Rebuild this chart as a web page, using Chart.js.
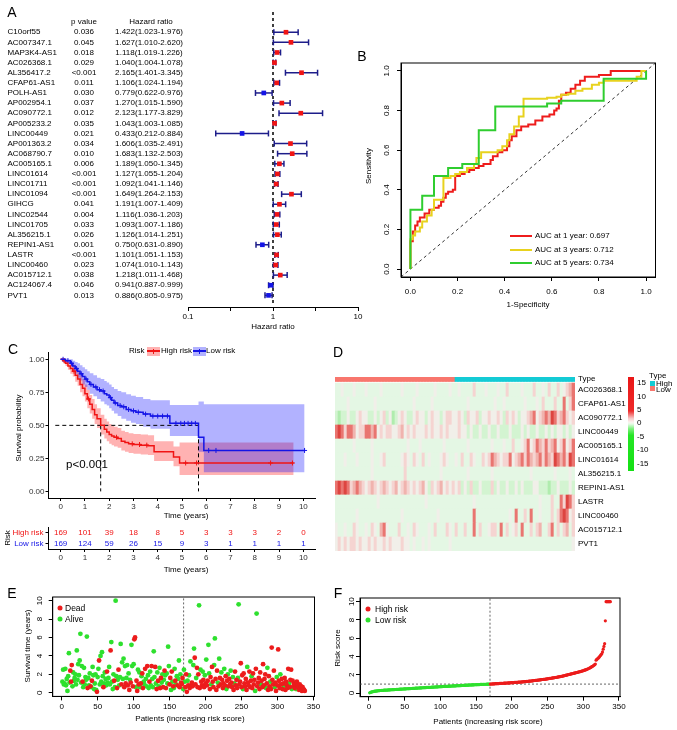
<!DOCTYPE html>
<html>
<head>
<meta charset="utf-8">
<script src="https://cdn.jsdelivr.net/npm/chart.js@4.4.1/dist/chart.umd.min.js"></script>
<style>
  body { margin: 0; background: #fff; font-family: "Liberation Sans", Arial, sans-serif; color: #000; }
  #page { position: relative; width: 677px; height: 730px; overflow: hidden; }
  canvas { position: absolute; }
  .t { position: absolute; white-space: nowrap; font-size: 8px; line-height: 1; transform: translate(-50%, -50%); }
  .l { position: absolute; white-space: nowrap; font-size: 8px; line-height: 1; transform: translateY(-50%); }
  .rot { transform: translate(-50%, -50%) rotate(-90deg); }
  .big { font-size: 14px; }
  .sw { position: absolute; }
  .dot { position: absolute; width: 5px; height: 5px; border-radius: 50%; transform: translate(-50%, -50%); }
</style>
</head>
<body>
<div id="page">
  <canvas id="forest" width="370" height="335" style="left:0;top:0"></canvas>
  <canvas id="roc" width="337" height="280" style="left:340px;top:40px"></canvas>
  <canvas id="km" width="340" height="180" style="left:0;top:340px"></canvas>
  <canvas id="riskTable" width="340" height="42" style="left:0;top:522px"></canvas>
  <canvas id="heat" width="347" height="190" style="left:330px;top:370px"></canvas>
  <canvas id="survScatter" width="340" height="145" style="left:0;top:585px"></canvas>
  <canvas id="riskScatter" width="337" height="145" style="left:340px;top:585px"></canvas>
</div>
<script>
// ---------- A: univariate Cox forest ----------
const genes = ['C10orf55','AC007347.1','MAP3K4-AS1','AC026368.1','AL356417.2','CFAP61-AS1','POLH-AS1','AP002954.1','AC090772.1','AP005233.2','LINC00449','AP001363.2','AC068790.7','AC005165.1','LINC01614','LINC01711','LINC01094','GIHCG','LINC02544','LINC01705','AL356215.1','REPIN1-AS1','LASTR','LINC00460','AC015712.1','AC124067.4','PVT1'];
const pValues = ['0.036','0.045','0.018','0.029','<0.001','0.011','0.030','0.037','0.012','0.035','0.021','0.034','0.010','0.006','<0.001','<0.001','<0.001','0.041','0.004','0.033','0.026','0.001','<0.001','0.023','0.038','0.046','0.013'];
const hr = [1.422,1.627,1.118,1.040,2.165,1.106,0.779,1.270,2.123,1.043,0.433,1.606,1.683,1.189,1.127,1.092,1.649,1.191,1.116,1.093,1.126,0.750,1.101,1.074,1.218,0.941,0.886];
const hrLow = [1.023,1.010,1.019,1.004,1.401,1.024,0.622,1.015,1.177,1.003,0.212,1.035,1.132,1.050,1.055,1.041,1.264,1.007,1.036,1.007,1.014,0.631,1.051,1.010,1.011,0.887,0.805];
const hrHigh = [1.976,2.620,1.226,1.078,3.345,1.194,0.976,1.590,3.829,1.085,0.884,2.491,2.503,1.345,1.204,1.146,2.153,1.409,1.203,1.186,1.251,0.890,1.153,1.143,1.468,0.999,0.975];
const hrTicks = [0.1, 0.316, 1, 3.162, 10];

// ---------- B: time-dependent ROC ----------
const rocYears = [1, 3, 5];
const rocAuc = ['0.697', '0.712', '0.734'];
const roc1Fpr = [0,0,0.01,0.02,0.03,0.04,0.06,0.08,0.10,0.12,0.13,0.14,0.15,0.16,0.18,0.19,0.21,0.23,0.25,0.27,0.29,0.31,0.32,0.34,0.35,0.37,0.39,0.41,0.42,0.43,0.45,0.47,0.50,0.53,0.56,0.59,0.61,0.62,0.63,0.64,0.66,0.68,0.70,0.72,0.74,0.78,0.80,0.83,0.85,0.90,0.98,1.0];
const roc1Tpr = [0,0.14,0.19,0.22,0.24,0.26,0.28,0.30,0.31,0.32,0.34,0.36,0.38,0.39,0.40,0.47,0.48,0.49,0.50,0.51,0.52,0.53,0.53,0.55,0.57,0.59,0.60,0.62,0.65,0.67,0.70,0.72,0.73,0.75,0.77,0.78,0.80,0.81,0.85,0.88,0.89,0.91,0.93,0.95,0.97,0.97,0.98,0.98,1.0,1.0,1.0,1.0];
const roc3Fpr = [0,0,0.01,0.02,0.04,0.05,0.07,0.09,0.10,0.14,0.17,0.19,0.21,0.24,0.27,0.28,0.30,0.37,0.39,0.41,0.42,0.44,0.46,0.48,0.58,0.62,0.64,0.67,0.70,0.73,0.77,0.80,0.82,0.96,0.98,1.0];
const roc3Tpr = [0,0.15,0.17,0.19,0.21,0.24,0.27,0.30,0.35,0.46,0.47,0.48,0.49,0.51,0.53,0.56,0.59,0.60,0.62,0.65,0.68,0.72,0.77,0.86,0.865,0.87,0.88,0.885,0.90,0.91,0.93,0.94,0.95,0.97,1.0,1.0];
const roc5Fpr = [0,0,0.05,0.10,0.16,0.22,0.29,0.36,0.58,0.64,0.82,1.0];
const roc5Tpr = [0,0.30,0.37,0.47,0.51,0.53,0.70,0.82,0.835,0.85,0.96,1.0];
const rocColors = ['#ee1c1c', '#e8d21e', '#2fcd2f'];

// ---------- C: Kaplan-Meier ----------
const hiTime = [0,0.1,0.2,0.3,0.4,0.5,0.6,0.7,0.8,0.9,1.0,1.1,1.2,1.3,1.4,1.5,1.65,1.8,1.9,2.0,2.1,2.2,2.35,2.5,2.65,2.8,3.0,3.3,3.6,3.85,4.65,4.9,9.6];
const hiSurv = [1.0,0.99,0.97,0.95,0.93,0.91,0.88,0.85,0.81,0.78,0.74,0.70,0.66,0.62,0.58,0.55,0.50,0.47,0.45,0.43,0.42,0.41,0.40,0.38,0.37,0.36,0.355,0.35,0.345,0.30,0.26,0.215,0.215];
const hiUpper = [1.0,1.0,0.99,0.98,0.97,0.96,0.94,0.91,0.88,0.85,0.81,0.77,0.73,0.70,0.66,0.63,0.58,0.55,0.53,0.51,0.50,0.49,0.48,0.46,0.45,0.44,0.435,0.43,0.425,0.38,0.34,0.37,0.37];
const hiLower = [1.0,0.97,0.95,0.92,0.89,0.87,0.83,0.80,0.75,0.72,0.68,0.63,0.59,0.55,0.51,0.48,0.43,0.40,0.38,0.36,0.35,0.34,0.33,0.31,0.30,0.29,0.285,0.28,0.275,0.23,0.19,0.125,0.125];
const loTime = [0,0.2,0.4,0.5,0.6,0.7,0.8,0.9,1.0,1.1,1.2,1.35,1.5,1.65,1.8,1.9,2.0,2.1,2.2,2.35,2.5,2.7,2.9,3.1,3.4,3.7,4.5,5.68,5.9,10.05];
const loSurv = [1.0,0.99,0.97,0.95,0.93,0.91,0.89,0.87,0.85,0.83,0.81,0.79,0.77,0.76,0.74,0.73,0.71,0.69,0.67,0.65,0.64,0.62,0.61,0.60,0.585,0.57,0.515,0.41,0.31,0.31];
const loUpper = [1.0,1.0,1.0,0.99,0.98,0.97,0.955,0.94,0.925,0.91,0.895,0.88,0.86,0.85,0.835,0.825,0.81,0.79,0.775,0.76,0.75,0.735,0.725,0.715,0.70,0.69,0.655,0.68,0.66,0.66];
const loLower = [1.0,0.97,0.94,0.91,0.89,0.86,0.84,0.81,0.79,0.77,0.74,0.72,0.70,0.68,0.66,0.65,0.63,0.61,0.59,0.57,0.55,0.535,0.52,0.51,0.49,0.475,0.42,0.30,0.145,0.145];
const hiCensor = [0.15,0.55,1.15,2.3,2.95,3.25,3.55,5.15,5.6,8.65,9.55];
const loCensor = [0.1,0.3,0.45,0.65,0.85,1.05,1.25,1.45,1.6,1.75,2.05,2.25,2.45,2.6,2.8,3.0,3.2,3.5,3.8,4.0,4.2,4.4,4.75,4.95,5.1,5.25,5.4,5.55,6.1,6.4,10.05];
const medianTimes = [1.65, 5.68];
const kmTicksX = [0,1,2,3,4,5,6,7,8,9,10];
const kmTicksY = [0, 0.25, 0.5, 0.75, 1];
const riskTimes = [0,1,2,3,4,5,6,7,8,9,10];
const atRiskHigh = [169,101,39,18,8,5,3,3,3,2,0];
const atRiskLow = [169,124,59,26,15,9,3,1,1,1,1];

// ---------- D: heatmap (level codes per column, low-risk left / high-risk right) ----------
const heatGenes = ['AC026368.1','CFAP61-AS1','AC090772.1','LINC00449','AC005165.1','LINC01614','AL356215.1','REPIN1-AS1','LASTR','LINC00460','AC015712.1','PVT1'];
const heatLevels = [
  ['..-...-...','-....-....','..-....-..','...-....-.','.-....p...','-...-..p..','..-...p..-','.p..p.-pPr'],
  ['....-.....','...-......','......-...','..-.......','....-.....','...-..-...','...-...-.p','...p..r.pr'],
  ['gGgg-gg-p-','-gg-g-pg-G','g-p-gg-p--','g-p--g-pp-','-p-gp--pg-','-p--p-gp-p','-g--pPr-pP','rPRrpPrp-p'],
  ['rRrprrP-pp','rrPr-p-pp-','-pP-p-p---','p-p--p-p--','-p--g-gg-g','g-gg-ggg-g','gg-g-gg-gg','-g-g--g-g-'],
  ['......-...','..-.......','....-...-.','......-...','....-.....','..-...-..p','..-pr-prPp','rpPr-pr-pr'],
  ['...-...-..','..-..-p...','..-p-.p-.p','.-...-p-..','-.p..p-..p','-prPp-ppr-','pPrprPpPrp','rPpRrPrpRr'],
  ['..........','..-.......','...p......','.....-....','....-.....','..-.......','.....-....','...-....-.'],
  ['rRrRrpPrPp','-pPp-pPp-p','P-pPp-p-pP','-gp-pP-p-p','-pg-gpgg-g','ggpg-gg-gg','-g-ggg--gg','gGgg-ggg-g'],
  ['..........','....-.....','..........','-.........','......-...','..........','........-.','..p..rpRrp'],
  ['.......-..','..........','..-.......','....-.....','......r...','........-.','r..p.r..-.','..p.prRr-p'],
  ['-..-..p-..','-.p-.Pr-..','.p..-.p-..','.-.p...p-.','p..p..r.p.','.-pp.r.p.-','p.r..p.pP.','.pr.p.pP.p'],
  ['-p-p-pp-p-','-p-p--p-p-','--p--.-..-','.-......-.','..........','..........','..........','.........-']
].map(r => r.join(''));
const heatLowCols = 40, heatHighCols = 40;
const heatPalette = { '.': '#e4f7e4', '-': '#f1efe9', 'p': '#f5d4d1', 'P': '#f0b3ae', 'r': '#e97570', 'R': '#dd4540', 'g': '#d3f4d1', 'G': '#b0ecae' };
const colorbarTicks = [15, 10, 5, 0, -5, -10, -15];

// ---------- E: survival status by patient (ordered by risk score) ----------
const survTimes = [
  1.2,2.5,0.9,1.0,2.6,0.8,1.5,0.2,1.8,4.3,1.1,2.4,1.2,3.0,0.7,2.2,1.3,1.6,2.0,0.9,
  4.6,1.4,3.1,1.9,3.5,6.4,1.1,2.9,1.2,0.6,2.7,0.9,1.7,1.4,6.1,0.5,1.6,0.8,2.1,0.7,
  0.6,1.3,2.8,1.9,0.4,1.0,2.0,0.3,0.1,1.7,2.6,3.5,0.9,4.0,1.2,4.4,1.8,0.6,1.0,2.2,
  1.5,0.8,2.3,1.1,1.6,2.8,0.9,4.6,5.5,1.2,0.4,2.0,1.3,0.6,10.0,1.8,0.5,1.4,2.5,0.8,
  1.7,5.3,0.9,3.3,1.5,3.7,0.6,2.9,1.0,1.6,3.0,0.8,2.1,0.3,1.4,1.1,5.2,2.9,0.7,3.1,
  5.8,6.0,0.6,1.3,0.2,2.5,0.9,2.2,0.6,1.0,1.8,2.1,0.5,1.2,0.9,2.6,1.5,0.7,2.9,1.9,
  0.5,1.2,2.3,0.8,2.9,1.5,0.6,4.5,1.7,2.8,1.0,0.4,2.2,1.3,0.7,2.7,0.5,1.6,1.1,2.0,
  0.6,1.4,2.4,1.9,0.5,2.1,1.0,5.0,2.9,0.9,1.6,0.3,2.3,1.2,0.7,0.5,2.6,1.3,0.9,1.8,
  0.8,1.5,3.5,0.6,2.0,1.1,0.9,1.6,0.4,2.5,1.2,0.6,2.0,0.1,1.3,0.8,1.9,0.5,3.4,0.8,
  1.1,0.7,3.0,4.8,3.8,0.9,1.6,2.7,0.6,2.0,9.5,0.5,2.5,1.2,0.8,2.3,1.4,0.6,1.9,1.0,
  3.6,0.8,1.3,5.2,2.1,0.4,1.7,0.9,2.8,1.2,0.6,3.0,5.9,1.5,0.3,2.4,1.1,0.7,3.7,1.6,
  0.9,2.2,1.4,0.5,1.0,2.6,0.8,1.8,0.4,1.3,2.0,0.7,1.5,0.9,2.4,1.1,0.6,1.7,0.3,1.0,
  2.3,0.8,1.4,0.5,1.6,9.6,0.9,1.2,3.2,0.6,1.9,0.4,2.1,1.0,0.7,1.5,0.3,2.8,1.1,0.8,
  2.3,0.6,1.3,1.8,0.5,2.1,0.9,1.4,0.2,2.6,8.6,0.7,1.1,1.6,0.4,2.2,0.9,1.3,0.6,3.1,
  0.8,1.5,2.0,0.5,1.0,2.7,0.3,1.8,0.7,1.2,0.4,4.9,1.4,0.9,2.4,0.6,1.1,0.2,1.7,0.8,
  4.7,1.3,0.5,2.0,0.9,1.5,0.4,1.0,0.7,1.6,0.3,1.2,0.8,0.5,2.6,1.0,0.6,1.4,2.5,0.4,
  1.3,0.7,1.0,0.5,0.9,0.4,1.2,0.8,0.6,0.3,0.9,0.5,0.7,0.2,0.6,0.4,0.3,0.2
];
const survStatus = [
  'aaaaaaaaaaadddaaaaaa','aaaaaaaadaaaaaadaaad','adaaaaaadaadaaaaadaa','aadaaaadaaaadaaadada',
  'aadaaadadaadadadaada','ddaddadaadaddaadaada','adaadaaaadadadaaddaa','dadadaaaaddadadaadaa',
  'daadadddaaadddadadad','ddaaddadddadaddaddad','addaaddadddaadddadad','dadddaddadadddaddada',
  'ddddaadddddadddddadd','dddaddddadadddddaddd','dddadadddadddddaddad','dddaddddaddddddaddda',
  'dddddadddddddddddd'
].join('');

// ---------- F: risk score by patient ----------
const riskScores = [
  0.02,0.06,0.09,0.12,0.14,0.16,0.18,0.20,0.21,0.22, 0.23,0.24,0.25,0.26,0.27,0.28,0.28,0.29,0.30,0.30,
  0.31,0.31,0.32,0.32,0.33,0.33,0.34,0.34,0.35,0.35, 0.36,0.36,0.37,0.37,0.38,0.38,0.39,0.39,0.40,0.40,
  0.41,0.41,0.42,0.42,0.43,0.43,0.44,0.44,0.45,0.45, 0.46,0.46,0.47,0.47,0.48,0.48,0.49,0.49,0.50,0.50,
  0.51,0.51,0.52,0.52,0.53,0.53,0.54,0.54,0.55,0.55, 0.56,0.56,0.57,0.57,0.58,0.58,0.59,0.59,0.60,0.60,
  0.61,0.61,0.62,0.62,0.62,0.63,0.63,0.64,0.64,0.65, 0.65,0.66,0.66,0.67,0.67,0.68,0.68,0.69,0.69,0.70,
  0.70,0.71,0.71,0.72,0.72,0.72,0.73,0.73,0.74,0.74, 0.75,0.75,0.75,0.76,0.76,0.77,0.77,0.78,0.78,0.78,
  0.79,0.79,0.80,0.80,0.81,0.81,0.81,0.82,0.82,0.83, 0.83,0.84,0.84,0.85,0.85,0.86,0.86,0.86,0.87,0.87,
  0.88,0.88,0.89,0.89,0.89,0.90,0.90,0.91,0.91,0.92, 0.92,0.92,0.93,0.93,0.93,0.94,0.94,0.94,0.95,0.95,
  0.95,0.96,0.96,0.96,0.97,0.97,0.97,0.98,0.98,
  0.98,0.99,0.99,1.00,1.00,1.01,1.01,1.02,1.02,1.03, 1.03,1.04,1.04,1.05,1.05,1.06,1.06,1.07,1.07,1.08,
  1.08,1.09,1.09,1.10,1.10,1.11,1.11,1.12,1.12,1.13, 1.13,1.14,1.14,1.15,1.16,1.16,1.17,1.17,1.18,1.19,
  1.19,1.20,1.21,1.21,1.22,1.23,1.23,1.24,1.25,1.26, 1.26,1.27,1.28,1.29,1.30,1.31,1.31,1.32,1.33,1.34,
  1.35,1.36,1.37,1.38,1.39,1.40,1.41,1.42,1.43,1.44, 1.45,1.46,1.47,1.48,1.49,1.50,1.51,1.52,1.53,1.55,
  1.56,1.57,1.58,1.60,1.61,1.62,1.63,1.65,1.66,1.67, 1.69,1.70,1.71,1.73,1.74,1.76,1.77,1.79,1.80,1.82,
  1.83,1.85,1.87,1.89,1.91,1.93,1.95,1.97,1.99,2.01, 2.03,2.05,2.07,2.09,2.11,2.13,2.15,2.17,2.19,2.21,
  2.23,2.25,2.27,2.29,2.31,2.33,2.35,2.37,2.40,2.42, 2.44,2.47,2.50,2.53,2.56,2.59,2.62,2.66,2.70,2.74,
  2.78,2.83,2.88,2.93,2.98,3.04,3.10,3.18,3.60,3.68, 3.75,3.82,3.90,4.00,4.10,4.20,4.30,4.50,4.80,5.10,
  5.40,7.90,10.0,10.0,10.0,10.0,10.0,10.0,10.0
];
const lowRiskCount = 169;
const riskCutoff = 0.98;
const patientTicks = [0,50,100,150,200,250,300,350];

// ---------- setup ----------
const RED = '#f01414', BLUE = '#1414e6', NAVY = '#1d1d8a';
const PT_RED = '#ec1c1c', PT_GREEN = '#2ee02e';
const FONT = '"Liberation Sans", Arial, sans-serif';
Chart.defaults.font.family = FONT;
Chart.defaults.font.size = 8;
Chart.defaults.color = '#000';
Chart.defaults.animation = false;
Chart.defaults.responsive = false;
Chart.defaults.plugins.legend.display = false;
Chart.defaults.plugins.tooltip.enabled = false;

const page = document.getElementById('page');
function put(cls, text, left, top, css) {
  const d = document.createElement('div');
  d.className = cls;
  d.textContent = text;
  d.style.left = left + 'px';
  d.style.top = top + 'px';
  if (css) Object.assign(d.style, css);
  page.appendChild(d);
  return d;
}
const xy = (xs, ys) => xs.map((x, i) => ({ x: x, y: ys[i] }));
function stepAt(ts, ss, t) { let v = ss[0]; ts.forEach((tt, i) => { if (tt <= t) v = ss[i]; }); return v; }

// R-like axis: ticks outward, fixed size so the plot box lands where it should
function axis(min, max, values, size, pad, fmt, opt) {
  opt = opt || {};
  return {
    type: opt.type || 'linear', min: min, max: max, reverse: !!opt.reverse,
    afterBuildTicks: s => { s.ticks = values.map(v => ({ value: v })); },
    afterFit: s => {
      if (s.isHorizontal()) s.height = size; else s.width = size;
      s.paddingLeft = s.paddingRight = s.paddingTop = s.paddingBottom = 0;
    },
    grid: { drawOnChartArea: false, drawTicks: true, tickLength: opt.tl || 4, color: '#000' },
    border: { display: true, color: '#000', width: 1 },
    ticks: { display: opt.hideLabels ? false : true, callback: fmt, padding: pad, autoSkip: false,
             maxRotation: 0, minRotation: 0, color: opt.color || '#000', font: { size: 8 } }
  };
}

const frame = {
  id: 'frame',
  afterDatasetsDraw(chart) {
    const a = chart.chartArea, ctx = chart.ctx;
    ctx.save();
    ctx.strokeStyle = '#000';
    ctx.lineWidth = 1;
    ctx.strokeRect(a.left, a.top, a.width, a.height);
    ctx.restore();
  }
};
function rotatedYLabels(dx) {
  return {
    id: 'rotatedYLabels',
    afterDraw(chart) {
      const s = chart.scales.y, ctx = chart.ctx, x = chart.chartArea.left + dx;
      ctx.save();
      ctx.font = '8px ' + FONT;
      ctx.fillStyle = '#000';
      ctx.textAlign = 'center';
      ctx.textBaseline = 'middle';
      s.ticks.forEach(t => {
        ctx.save();
        ctx.translate(x, s.getPixelForValue(t.value));
        ctx.rotate(-Math.PI / 2);
        ctx.fillText(t.label, 0, 0);
        ctx.restore();
      });
      ctx.restore();
    }
  };
}

// ---------- A ----------
const forestTable = {
  id: 'forestTable',
  afterDraw(chart) {
    const ctx = chart.ctx, y = chart.scales.y;
    ctx.save();
    ctx.font = '8px ' + FONT;
    ctx.fillStyle = '#000';
    ctx.textBaseline = 'middle';
    ctx.textAlign = 'center';
    ctx.fillText('p value', 84, y.getPixelForValue(-1));
    ctx.fillText('Hazard ratio', 151, y.getPixelForValue(-1));
    genes.forEach((g, i) => {
      const py = y.getPixelForValue(i);
      ctx.textAlign = 'left';
      ctx.fillText(g, 7.5, py);
      ctx.textAlign = 'center';
      ctx.fillText(pValues[i], 84, py);
      ctx.fillText(hr[i].toFixed(3) + '(' + hrLow[i].toFixed(3) + '-' + hrHigh[i].toFixed(3) + ')', 149, py);
    });
    ctx.restore();
  }
};

new Chart(document.getElementById('forest'), {
  type: 'scatter',
  data: {
    datasets: [
      { data: genes.map((g, i) => ({ x: hr[i], y: i })), pointStyle: 'rect', pointRadius: 3.3,
        pointBackgroundColor: hr.map(v => v > 1 ? RED : BLUE), pointBorderWidth: 0 },
      ...genes.map((g, i) => ({
        data: [{ x: hrLow[i], y: i }, { x: hrHigh[i], y: i }], showLine: true,
        borderColor: NAVY, borderWidth: 1.5, pointStyle: 'line', pointRotation: 90, pointRadius: 3,
        pointBorderColor: NAVY, pointBorderWidth: 1.5
      })),
      { data: [{ x: 1, y: -2 }, { x: 1, y: 27 }], showLine: true, borderColor: '#000', borderWidth: 1.5,
        borderDash: [3, 3], pointRadius: 0 }
    ]
  },
  options: {
    layout: { padding: { left: 188, right: 12, top: 12, bottom: 0 } },
    scales: {
      x: axis(0.1, 10, hrTicks, 28, 1, v => ({ 0.1: '0.1', 1: '1', 10: '10' })[v] || '', { type: 'logarithmic' }),
      y: { display: false, min: -2, max: 27.15, reverse: true }
    }
  },
  plugins: [forestTable]
});
put('t', 'Hazard ratio', 273, 327);

// ---------- B ----------
new Chart(document.getElementById('roc'), {
  type: 'line',
  data: {
    datasets: [
      { data: xy(roc5Fpr, roc5Tpr), stepped: 'before', borderColor: rocColors[2], borderWidth: 2, pointRadius: 0 },
      { data: xy(roc3Fpr, roc3Tpr), stepped: 'before', borderColor: rocColors[1], borderWidth: 2, pointRadius: 0 },
      { data: xy(roc1Fpr, roc1Tpr), stepped: 'before', borderColor: rocColors[0], borderWidth: 2, pointRadius: 0 },
      { data: [{ x: -0.04, y: -0.04 }, { x: 1.04, y: 1.04 }], borderColor: '#333', borderWidth: 1,
        borderDash: [3, 3], pointRadius: 0 }
    ]
  },
  options: {
    layout: { padding: { left: 0, right: 21.5, top: 23, bottom: 0 } },
    scales: {
      x: axis(-0.04, 1.04, [0, 0.2, 0.4, 0.6, 0.8, 1], 43, 6, v => v.toFixed(1)),
      y: axis(-0.04, 1.04, [0, 0.2, 0.4, 0.6, 0.8, 1], 61, 2, v => v.toFixed(1), { hideLabels: true })
    }
  },
  plugins: [frame, rotatedYLabels(-14.3)]
});
put('t rot', 'Sensitivity', 369, 166);
put('t', '1-Specificity', 528, 305);
rocYears.forEach((yr, i) => {
  const y = 236 + i * 13.6;
  put('sw', '', 510, y - 1, { width: '22px', height: '2px', background: rocColors[i] });
  put('l', 'AUC at ' + yr + (yr > 1 ? ' years: ' : ' year: ') + rocAuc[i], 535, y);
});

// ---------- C ----------
const kmLine = (ts, ss, color) => ({ data: xy(ts, ss), stepped: 'before', borderColor: color, borderWidth: 1.5, pointRadius: 0 });
const kmCensor = (ts, ss, cs, color) => ({
  data: cs.map(t => ({ x: t, y: stepAt(ts, ss, t) })), showLine: false, pointStyle: 'cross',
  pointRadius: 2.5, pointBorderColor: color, pointBorderWidth: 1
});
const dashed = pts => ({ data: pts, borderColor: '#000', borderWidth: 1, borderDash: [4, 3], pointRadius: 0 });
const band = (ts, vs, fill, bg) => ({ data: xy(ts, vs), stepped: 'before', borderWidth: 0, pointRadius: 0,
  fill: fill, backgroundColor: bg });

new Chart(document.getElementById('km'), {
  type: 'line',
  data: {
    datasets: [
      kmLine(loTime, loSurv, BLUE),
      kmLine(hiTime, hiSurv, RED),
      kmCensor(loTime, loSurv, loCensor, BLUE),
      kmCensor(hiTime, hiSurv, hiCensor, RED),
      dashed([{ x: -0.22, y: 0.5 }, { x: medianTimes[1], y: 0.5 }]),
      dashed([{ x: medianTimes[0], y: 0.5 }, { x: medianTimes[0], y: 0 }]),
      dashed([{ x: medianTimes[1], y: 0.5 }, { x: medianTimes[1], y: 0 }]),
      band(loTime, loUpper, false, 'rgba(0,0,0,0)'),
      band(loTime, loLower, '-1', 'rgba(0,0,255,0.3)'),
      band(hiTime, hiUpper, false, 'rgba(0,0,0,0)'),
      band(hiTime, hiLower, '-1', 'rgba(255,0,0,0.3)')
    ]
  },
  options: {
    layout: { padding: { left: 0, right: 24.5, top: 12.7, bottom: 0 } },
    scales: {
      x: axis(-0.5, 10.5, kmTicksX, 22, 1, v => String(v), { tl: 3, color: '#333' }),
      y: axis(-0.05, 1.05, kmTicksY, 48.5, 1, v => v.toFixed(2), { tl: 3, color: '#333' })
    }
  }
});
put('t rot', 'Survival probability', 19, 428);
put('t', 'Time (years)', 186, 516);
put('t', 'p<0.001', 87, 465, { fontSize: '11.5px' });
function kmKey(x, y, fill, line) {
  put('sw', '', x, y - 4.5, { width: '12.5px', height: '9px', background: fill });
  put('sw', '', x, y - 0.75, { width: '12.5px', height: '1.5px', background: line });
  put('sw', '', x + 5.75, y - 2.5, { width: '1px', height: '5px', background: line });
}
put('l', 'Risk', 129, 351);
kmKey(147, 351, 'rgba(255,0,0,0.3)', RED);
put('l', 'High risk', 161, 351);
kmKey(193, 351, 'rgba(0,0,255,0.3)', BLUE);
put('l', 'Low risk', 206, 351);

// number at risk
const atRiskText = {
  id: 'atRiskText',
  afterDatasetsDraw(chart) {
    const ctx = chart.ctx;
    ctx.save();
    ctx.font = '8px ' + FONT;
    ctx.textAlign = 'center';
    ctx.textBaseline = 'middle';
    chart.data.datasets.forEach((ds, d) => {
      ctx.fillStyle = ds.textColor;
      chart.getDatasetMeta(d).data.forEach((pt, i) => ctx.fillText(String(ds.counts[i]), pt.x, pt.y));
    });
    ctx.restore();
  }
};
const riskRows = ['High risk', 'Low risk'];
new Chart(document.getElementById('riskTable'), {
  type: 'scatter',
  data: {
    datasets: [
      { data: riskTimes.map(t => ({ x: t, y: riskRows[0] })), counts: atRiskHigh, textColor: RED, pointRadius: 0 },
      { data: riskTimes.map(t => ({ x: t, y: riskRows[1] })), counts: atRiskLow, textColor: BLUE, pointRadius: 0 }
    ]
  },
  options: {
    layout: { padding: { left: 0, right: 24.5, top: 5, bottom: 0 } },
    scales: {
      x: axis(-0.5, 10.5, kmTicksX, 15, 0.5, v => String(v), { tl: 3, color: '#333' }),
      y: {
        type: 'category', labels: riskRows, offset: true,
        afterFit: s => { s.width = 48.5; s.paddingTop = s.paddingBottom = 0; },
        grid: { drawOnChartArea: false, drawTicks: true, tickLength: 3, color: '#000' },
        border: { display: true, color: '#000', width: 1 },
        ticks: { padding: 2, autoSkip: false, font: { size: 8 }, color: c => c.index === 0 ? RED : BLUE }
      }
    }
  },
  plugins: [atRiskText]
});
put('t rot', 'Risk', 8, 538);
put('t', 'Time (years)', 186, 570);

// ---------- D ----------
const heatCols = heatLevels[0].length;
const gapH = 1.5 / 14, typeH = 4.5 / 14;
const heatType = Array(heatLowCols).fill('#f8766d').concat(Array(heatHighCols).fill('#14cbd5'));
const heatAxisLabels = heatGenes.slice().reverse().concat('Type');
new Chart(document.getElementById('heat'), {
  type: 'bar',
  data: {
    labels: Array.from({ length: heatCols }, (_, i) => i),
    datasets: heatLevels.slice().reverse().map(row => ({
      data: Array(heatCols).fill(1),
      backgroundColor: row.split('').map(ch => heatPalette[ch])
    })).concat([
      { data: Array(heatCols).fill(gapH), backgroundColor: 'rgba(0,0,0,0)' },
      { data: Array(heatCols).fill(typeH), backgroundColor: heatType }
    ])
  },
  options: {
    layout: { padding: { left: 5, right: 0, top: 7, bottom: 9 } },
    datasets: { bar: { barPercentage: 1, categoryPercentage: 1, borderWidth: 0 } },
    scales: {
      x: { stacked: true, display: false },
      y: {
        stacked: true, position: 'right', min: 0, max: 12 + gapH + typeH,
        afterBuildTicks: s => { s.ticks = heatGenes.map((g, k) => ({ value: k + 0.5 })).concat([{ value: 12 + gapH + typeH / 2 }]); },
        afterFit: s => { s.width = 102; s.paddingTop = s.paddingBottom = 0; },
        grid: { display: false, drawTicks: false },
        border: { display: false },
        ticks: { callback: (v, i) => heatAxisLabels[i], padding: 3, autoSkip: false, font: { size: 8 }, color: '#000' }
      }
    }
  }
});
put('sw', '', 627.5, 377, { width: '6.5px', height: '94px',
  background: 'linear-gradient(to bottom, #ea1616 0%, #ee2a2a 36%, #f8c8c8 44%, #fbf3f0 48%, #e6fae6 50%, #7ef07e 55%, #26e626 62%, #14e014 100%)' });
colorbarTicks.forEach(v => put('l', String(v), 637, 423.3 - v * 2.68));
put('l', 'Type', 649, 376);
put('sw', '', 650, 380.5, { width: '5px', height: '5px', background: '#14cbd5' });
put('l', 'High', 656, 383.5);
put('sw', '', 650, 385.5, { width: '5px', height: '5.5px', background: '#f8766d' });
put('l', 'Low', 656, 389.5);

// ---------- E ----------
const deadPts = [], alivePts = [];
survTimes.forEach((t, i) => (survStatus[i] === 'd' ? deadPts : alivePts).push({ x: i + 1, y: t }));
const cutPatient = lowRiskCount + 0.5;
const dotted = pts => ({ type: 'line', data: pts, borderColor: '#666', borderWidth: 1, borderDash: [2, 2], pointRadius: 0 });

new Chart(document.getElementById('survScatter'), {
  type: 'scatter',
  data: {
    datasets: [
      { data: deadPts, pointRadius: 2.4, pointBackgroundColor: PT_RED, pointBorderWidth: 0 },
      { data: alivePts, pointRadius: 2.4, pointBackgroundColor: PT_GREEN, pointBorderWidth: 0 },
      dotted([{ x: cutPatient, y: -0.4 }, { x: cutPatient, y: 10.4 }])
    ]
  },
  options: {
    layout: { padding: { left: 0, right: 25.5, top: 12, bottom: 0 } },
    scales: {
      x: axis(-12.5, 351.5, patientTicks, 33.6, 1.5, v => String(v)),
      y: axis(-0.4, 10.4, [0, 2, 4, 6, 8, 10], 52.7, 2, v => String(v), { hideLabels: true })
    }
  },
  plugins: [frame, rotatedYLabels(-12.7)]
});
put('t rot', 'Survival time (years)', 28, 646);
put('t', 'Patients (increasing risk score)', 190, 719);
put('dot', '', 60, 608, { background: PT_RED });
put('l', 'Dead', 65, 608, { fontSize: '8.5px' });
put('dot', '', 60, 619, { background: PT_GREEN });
put('l', 'Alive', 65, 619, { fontSize: '8.5px' });

// ---------- F ----------
const riskPts = riskScores.map((v, i) => ({ x: i + 1, y: v }));
new Chart(document.getElementById('riskScatter'), {
  type: 'scatter',
  data: {
    datasets: [
      { data: riskPts.slice(lowRiskCount), pointRadius: 1.6, pointBackgroundColor: PT_RED, pointBorderWidth: 0 },
      { data: riskPts.slice(0, lowRiskCount), pointRadius: 1.6, pointBackgroundColor: PT_GREEN, pointBorderWidth: 0 },
      dotted([{ x: cutPatient, y: -0.4 }, { x: cutPatient, y: 10.4 }]),
      dotted([{ x: -12.5, y: riskCutoff }, { x: 351.5, y: riskCutoff }])
    ]
  },
  options: {
    layout: { padding: { left: 0, right: 57, top: 13, bottom: 0 } },
    scales: {
      x: axis(-12.5, 351.5, patientTicks, 33.3, 1.5, v => String(v)),
      y: axis(-0.4, 10.4, [0, 2, 4, 6, 8, 10], 20, 2, v => String(v), { hideLabels: true })
    }
  },
  plugins: [frame, rotatedYLabels(-8.5)]
});
put('t rot', 'Risk score', 338, 648);
put('t', 'Patients (increasing risk score)', 488, 722);
put('dot', '', 367.7, 609, { background: PT_RED });
put('l', 'High risk', 375, 609, { fontSize: '8.5px' });
put('dot', '', 367.7, 620, { background: PT_GREEN });
put('l', 'Low risk', 375, 620, { fontSize: '8.5px' });

// panel letters
[['A', 12, 12], ['B', 362, 56], ['C', 13, 349], ['D', 338, 352], ['E', 12, 593], ['F', 338, 593]]
  .forEach(p => put('t big', p[0], p[1], p[2]));
</script>
</body>
</html>
